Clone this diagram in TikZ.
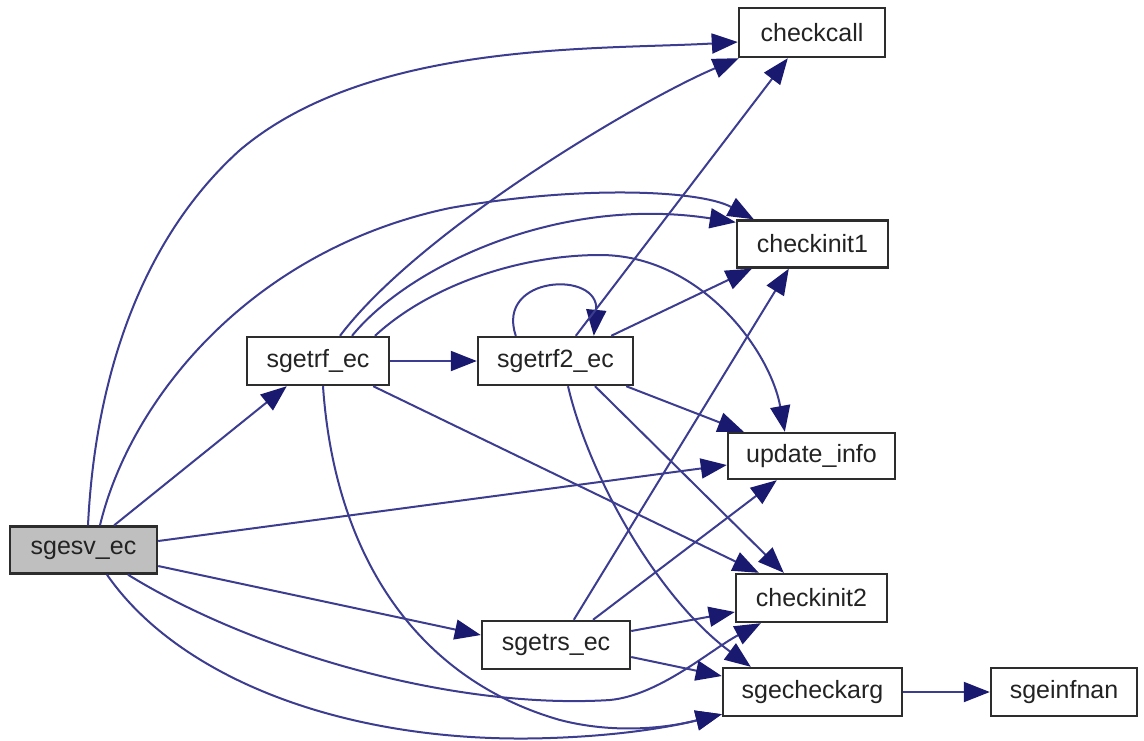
\documentclass[tikz,border=0pt]{standalone}
\usepackage{fontspec}
\setmainfont{Liberation Sans}
\usetikzlibrary{arrows.meta,calc}
\definecolor{edgec}{RGB}{60,60,145}
\definecolor{tipc}{RGB}{25,25,112}
\definecolor{boxc}{RGB}{45,45,45}
\definecolor{grayfill}{RGB}{191,191,191}
\definecolor{textc}{RGB}{35,35,35}
\begin{document}
\begin{tikzpicture}[x=0.5pt,y=-0.5pt,
  box/.style={draw=boxc,line width=1.2pt,fill=white,inner sep=0pt,
    font=\fontsize{12.5}{15}\selectfont,text=textc},
  bw/.style={minimum width=#1*0.5pt},
  bh/.style={minimum height=#1*0.5pt},
  edge/.style={draw=edgec,line width=1pt,-{Triangle[length=13pt,width=10pt,color=tipc]}}]
\path[use as bounding box] (0,0) rectangle (1144,740);

\node[box,bw=147,bh=47,fill=grayfill] (sgesv) at (83.5,550) {sgesv\_ec};
\node[box,bw=146,bh=49] (checkcall) at (812,32.5) {checkcall};
\node[box,bw=151,bh=47] (checkinit1) at (812.5,244) {checkinit1};
\node[box,bw=142,bh=48] (sgetrf) at (318,361) {sgetrf\_ec};
\node[box,bw=155,bh=48] (sgetrf2) at (555.5,361) {sgetrf2\_ec};
\node[box,bw=167,bh=46] (update) at (811.5,456) {update\_info};
\node[box,bw=151,bh=48] (checkinit2) at (811.5,598) {checkinit2};
\node[box,bw=148,bh=48] (sgetrs) at (556,645) {sgetrs\_ec};
\node[box,bw=179,bh=48] (sgecheck) at (812.5,692) {sgecheckarg};
\node[box,bw=146,bh=48] (sgeinfnan) at (1064,692) {sgeinfnan};

% from sgesv_ec
\draw[edge] ($(sgesv.north)+(4.5,0)$) .. controls (95,380) and (140,240) .. (240,150)
  .. controls (370,40) and (600,50) .. ($(checkcall.west)+(0,9.5)$);
\draw[edge] ($(sgesv.north)+(16.5,0)$) .. controls (130,400) and (250,250) .. (450,208)
  .. controls (580,185) and (700,190) .. ($(checkinit1.north west)+(18,0)$);
\draw[edge] (sgesv) -- (sgetrf);
\draw[edge] ($(sgesv.east)+(0,-9)$) -- ($(update.west)+(0,9)$);
\draw[edge] ($(sgesv.east)+(0,16)$) -- ($(sgetrs.west)+(0,-10)$);
\draw[edge] ($(sgesv.south)+(44.5,0)$) .. controls (250,650) and (450,710) .. (610,700)
  .. controls (660,695) and (710,650) .. ($(checkinit2.south west)+(26,0)$);
\draw[edge] ($(sgesv.south)+(23.5,0)$) .. controls (180,680) and (350,745) .. (550,738)
  .. controls (640,735) and (690,722) .. ($(sgecheck.south west)+(0,-3)$);

% from sgetrf_ec
\draw[edge] ($(sgetrf.north)+(22,0)$) .. controls (420,230) and (640,100) .. ($(checkcall.south west)+(1,0)$);
\draw[edge] ($(sgetrf.north)+(34,0)$) .. controls (410,265) and (560,195) .. ($(checkinit1.north west)+(0,3)$);
\draw[edge] ($(sgetrf.north)+(57,0)$) .. controls (430,285) and (520,255) .. (600,255)
  .. controls (700,255) and (770,350) .. ($(update.north west)+(58,0)$);
\draw[edge] (sgetrf) -- (sgetrf2);
\draw[edge] ($(sgetrf.south east)+(-17,0)$) -- ($(checkinit2.north west)+(24,0)$);
\draw[edge] ($(sgetrf.south)+(5,0)$) .. controls (335,560) and (420,680) .. (560,720)
  .. controls (630,738) and (690,722) .. ($(sgecheck.south west)+(0,-3)$);

% from sgetrf2_ec
\draw[edge] ($(sgetrf2.north west)+(39,0)$) .. controls (495,275) and (600,270) .. ($(sgetrf2.north west)+(117,0)$);
\draw[edge] ($(sgetrf2.north west)+(99,0)$) -- ($(checkcall.south west)+(50,0)$);
\draw[edge] ($(sgetrf2.north east)+(-23,0)$) -- ($(checkinit1.south west)+(16,0)$);
\draw[edge] ($(sgetrf2.south east)+(-8,0)$) -- ($(update.north west)+(17,0)$);
\draw[edge] ($(sgetrf2.south)+(39.5,0)$) -- ($(checkinit2.north west)+(49,0)$);
\draw[edge] ($(sgetrf2.south)+(12.5,0)$) .. controls (590,480) and (660,600) .. ($(sgecheck.north west)+(29,0)$);

% from sgetrs_ec
\draw[edge] ($(sgetrs.north west)+(93,0)$) -- ($(checkinit1.south west)+(53,0)$);
\draw[edge] ($(sgetrs.north)+(37,0)$) -- ($(update.south west)+(50,0)$);
\draw[edge] ($(sgetrs.east)+(0,-14)$) -- ($(checkinit2.west)+(0,14)$);
\draw[edge] ($(sgetrs.east)+(0,12)$) -- ($(sgecheck.west)+(0,-16)$);

% from sgecheckarg
\draw[edge] (sgecheck) -- (sgeinfnan);
\end{tikzpicture}
\end{document}
